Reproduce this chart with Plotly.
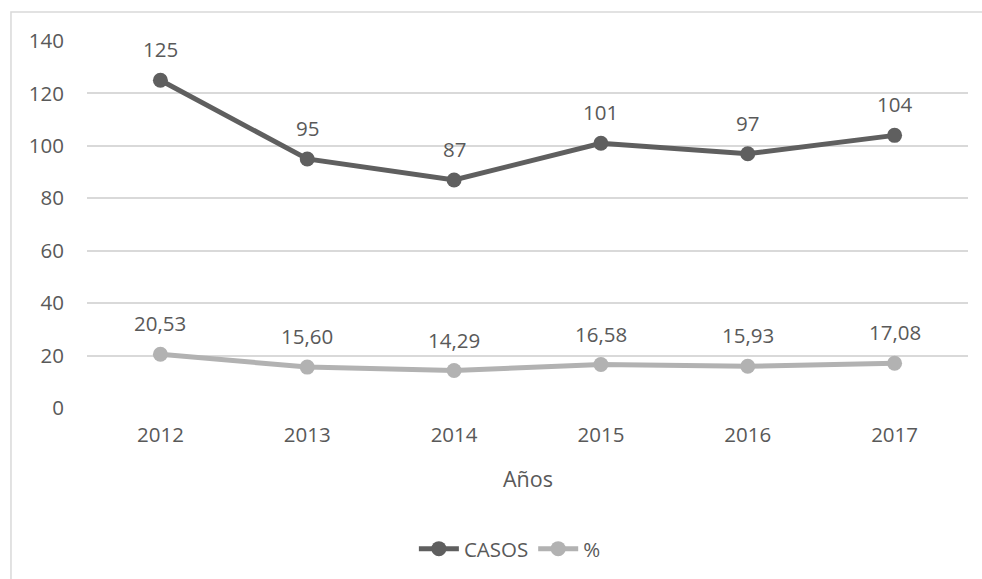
import plotly.graph_objects as go

years = ["2012", "2013", "2014", "2015", "2016", "2017"]
casos = [125, 95, 87, 101, 97, 104]
pct = [20.53, 15.60, 14.29, 16.58, 15.93, 17.08]
y_ticks = [0, 20, 40, 60, 80, 100, 120, 140]

TXT = "#595959"
FONT = "Open Sans"
FS = 20.5
C_CASOS = "#5f5f5f"
C_PCT = "#b2b2b2"

fig = go.Figure()
fig.add_trace(go.Scatter(x=years, y=casos, name="CASOS", mode="lines+markers",
                         line=dict(color=C_CASOS, width=5),
                         marker=dict(color=C_CASOS, size=15)))
fig.add_trace(go.Scatter(x=years, y=pct, name="%", mode="lines+markers",
                         line=dict(color=C_PCT, width=5),
                         marker=dict(color=C_PCT, size=15)))

annotations = []
for i, yv in enumerate(casos):
    annotations.append(dict(x=i, y=yv, xref="x", yref="y", text=str(yv),
                            showarrow=False, yshift=31, yanchor="middle",
                            font=dict(size=FS, color=TXT, family=FONT)))
for i, yv in enumerate(pct):
    annotations.append(dict(x=i, y=yv, xref="x", yref="y",
                            text=f"{yv:.2f}".replace(".", ","),
                            showarrow=False, yshift=31, yanchor="middle",
                            font=dict(size=FS, color=TXT, family=FONT)))
annotations.append(dict(x=0.5, y=-0.193, xref="paper", yref="paper", text="Años",
                        showarrow=False, yanchor="middle", xanchor="center",
                        font=dict(size=FS + 1, color=TXT, family=FONT)))

fig.update_layout(
    width=982, height=579,
    margin=dict(l=87, r=14, t=41, b=170),
    paper_bgcolor="white", plot_bgcolor="white",
    font=dict(family=FONT, color=TXT, size=FS),
    showlegend=True,
    legend=dict(orientation="h", x=0.48, xanchor="center", y=-0.38, yanchor="middle",
                font=dict(size=FS, color=TXT, family=FONT), itemwidth=40,
                traceorder="normal"),
    annotations=annotations,
    shapes=[dict(type="rect", xref="paper", yref="paper",
                 x0=-0.0863, x1=1.03, y0=-0.55, y1=1.0788,
                 line=dict(color="#d9d9d9", width=1.5), fillcolor="rgba(0,0,0,0)",
                 layer="below")],
)
fig.update_xaxes(type="category", range=[-0.5, 5.5], showgrid=False, showline=False,
                 zeroline=False, ticks="", ticklabelstandoff=12,
                 tickfont=dict(size=FS, color=TXT, family=FONT))
fig.update_yaxes(range=[0, 140], tickvals=y_ticks, showgrid=True, gridcolor="#d9d9d9",
                 gridwidth=1.5, zeroline=False, showline=False, ticks="",
                 ticklabelstandoff=22, tickfont=dict(size=FS, color=TXT, family=FONT))

fig.write_html("out.html")
